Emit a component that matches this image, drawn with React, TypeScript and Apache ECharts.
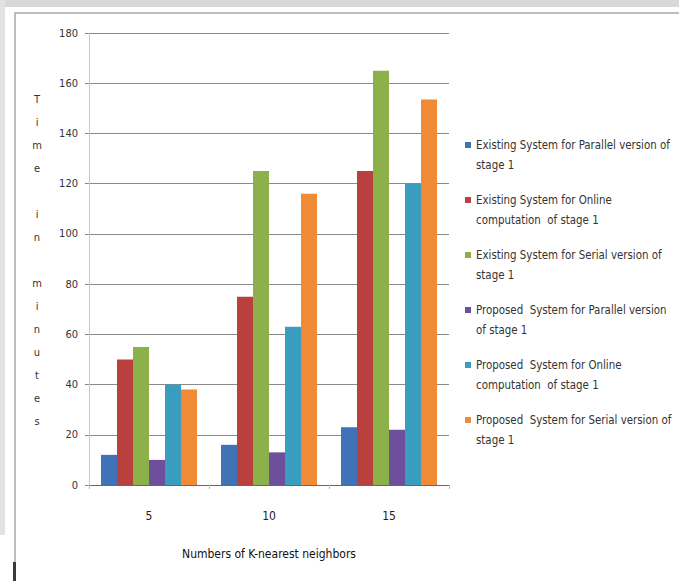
import React, { useEffect, useRef } from "react";
import * as echarts from "echarts";

// K values on the horizontal axis
const categories = ["5", "10", "15"];

// Running time in minutes for each system / stage-1 variant
const existingParallel = [12, 16, 23];
const existingOnline = [50, 75, 125];
const existingSerial = [55, 125, 165];
const proposedParallel = [10, 13, 22];
const proposedOnline = [40, 63, 120];
const proposedSerial = [38, 116, 153.5];

const seriesNames = [
  "Existing System for Parallel version of stage 1",
  "Existing System for Online computation of stage 1",
  "Existing System for Serial version of stage 1",
  "Proposed  System for Parallel version of stage 1",
  "Proposed  System for Online computation of stage 1",
  "Proposed  System for Serial version of stage 1",
];

// Wrapped legend labels; the leading blank line keeps the swatch beside the first line
const legendLabels = [
  "\nExisting System for Parallel version of\nstage 1",
  "\nExisting System for Online\ncomputation  of stage 1",
  "\nExisting System for Serial version of\nstage 1",
  "\nProposed  System for Parallel version\nof stage 1",
  "\nProposed  System for Online\ncomputation  of stage 1",
  "\nProposed  System for Serial version of\nstage 1",
];

const yTicks = [0, 20, 40, 60, 80, 100, 120, 140, 160, 180];

const colors = ["#3f72b6", "#b9403d", "#8cb04a", "#6e4f9c", "#3a9dc0", "#f08a36"];

const FONT = "'Liberation Sans Narrow', 'DejaVu Sans Condensed', 'Open Sans', sans-serif";

export default function App() {
  const ref = useRef<HTMLDivElement>(null);

  useEffect(() => {
    if (!ref.current) return;
    const chart = echarts.init(ref.current, undefined, { renderer: "svg" });
    const values = [
      existingParallel,
      existingOnline,
      existingSerial,
      proposedParallel,
      proposedOnline,
      proposedSerial,
    ];

    chart.setOption({
      animation: false,
      backgroundColor: "#ffffff",
      color: colors,
      textStyle: { fontFamily: FONT },
      grid: { left: 89, right: 230, top: 33, bottom: 96, containLabel: false },
      legend: {
        orient: "vertical",
        left: 465,
        top: 115,
        padding: 0,
        itemGap: -5,
        itemWidth: 6,
        itemHeight: 6,
        icon: "rect",
        data: seriesNames,
        formatter: (name: string) => legendLabels[seriesNames.indexOf(name)],
        textStyle: {
          fontFamily: FONT,
          fontSize: 11.4,
          color: "#333",
          lineHeight: 20,
        },
      },
      xAxis: {
        type: "category",
        data: categories,
        axisLine: { lineStyle: { color: "#666", width: 1 } },
        axisTick: { show: true, length: 4, lineStyle: { color: "#bbb" } },
        axisLabel: { margin: 25, fontSize: 12, color: "#222", fontFamily: FONT },
        name: "Numbers of K-nearest neighbors",
        nameLocation: "middle",
        nameGap: 63,
        nameTextStyle: { fontSize: 12, color: "#111", fontFamily: FONT },
      },
      yAxis: {
        type: "value",
        min: yTicks[0],
        max: yTicks[yTicks.length - 1],
        interval: 20,
        axisLine: { show: true, lineStyle: { color: "#c8c8c8" } },
        axisTick: { show: true, length: 4, lineStyle: { color: "#888" } },
        axisLabel: { margin: 11, fontSize: 11, color: "#333", fontFamily: FONT },
        splitLine: { lineStyle: { color: "#8a8a8a", width: 1 } },
      },
      series: seriesNames.map((name, i) => ({
        name,
        type: "bar",
        data: values[i],
        barGap: "0%",
        barCategoryGap: "20%",
        itemStyle: { color: colors[i] },
      })),
      graphic: [
        { type: "rect", shape: { x: 0, y: 0, width: 679, height: 7 }, style: { fill: "#d9d9d9" }, silent: true },
        { type: "rect", shape: { x: 0, y: 0, width: 5, height: 535 }, style: { fill: "#e2e2e2" }, silent: true },
        {
          type: "polyline",
          shape: { points: [[15, 581], [15, 13], [679, 13]] },
          style: { stroke: "#a9a9a9", lineWidth: 1.5, fill: "none" },
          silent: true,
        },
        {
          type: "line",
          shape: { x1: 14.5, y1: 562, x2: 14.5, y2: 581 },
          style: { stroke: "#3a3a3a", lineWidth: 3 },
          silent: true,
        },
        {
          type: "text",
          x: 37,
          y: 88,
          style: {
            text: "T\ni\nm\ne\n\ni\nn\n\nm\ni\nn\nu\nt\ne\ns",
            fontFamily: FONT,
            fontSize: 11,
            lineHeight: 23,
            fill: "#333",
            align: "center",
            verticalAlign: "top",
          },
          silent: true,
        },
      ],
    });

    return () => chart.dispose();
  }, []);

  return (
    <div
      ref={ref}
      style={{ position: "fixed", left: 0, top: 0, width: 679, height: 581 }}
    />
  );
}
